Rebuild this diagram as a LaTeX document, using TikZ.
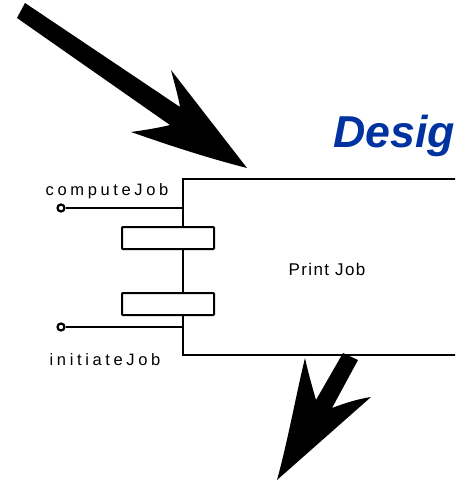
\documentclass[tikz,border=0pt]{standalone}
\usepackage{fontspec}
\setmainfont{Liberation Sans}
\newfontfamily\spacedfont[LetterSpace=22]{Liberation Sans}
\newfontfamily\jobfont[LetterSpace=8]{Liberation Sans}
\definecolor{titleblue}{RGB}{0,51,160}
\begin{document}
\begin{tikzpicture}[x=1pt,y=-1pt,
  thinline/.style={line width=2pt,line join=round},
  portbox/.style={draw,line width=2pt,rounded corners=0.8pt,minimum width=92pt,minimum height=22pt,inner sep=0pt},
  jobbox/.style={draw,line width=2pt,minimum width=286pt,minimum height=176pt,inner sep=0pt},
  plug/.style={circle,draw,line width=2.2pt,fill=white,minimum size=7pt,inner sep=0pt},
  portlabel/.style={font=\spacedfont\fontsize{16.5}{18}\selectfont,inner sep=0pt},
  bigarrow/.style={fill=black,draw=none}]
\useasboundingbox (0,0) rectangle (455,481);
\clip (0,0) rectangle (455,481);
\fill[white] (0,0) rectangle (455,481);

% title, running off the right edge
\node[anchor=base west,inner sep=0pt,text=titleblue,
      font=\fontsize{44.7}{46}\selectfont\bfseries\itshape] (title) at (333,147) {Desig};

% component box and its two interface ports
\node[jobbox] (job) at (326,267) {};
\node[font=\jobfont\fontsize{17}{18}\selectfont,inner sep=0pt] (jobname) at (327,269) {Print Job};
\node[portbox,fill=white] (p1) at (168,238) {};
\node[portbox,fill=white] (p2) at (168,304) {};

% provided operations
\node[plug] (c1) at (61,208) {};
\node[plug] (c2) at (61,327) {};
\draw[thinline] (c1) -- (c1 -| job.west);
\draw[thinline] (c2) -- (c2 -| job.west);
\node[portlabel] (l1) at (107,191) {computeJob};
\node[portlabel] (l2) at (105,360) {initiateJob};

% incoming arrow, top left
\fill[bigarrow] (25,3) -- (180,107)
  .. controls (178,95) and (174,82) .. (171,70)
  -- (247,168)
  .. controls (200,156) and (160,142) .. (131,132)
  .. controls (145,130) and (158,128) .. (170,125)
  -- (17,18) -- cycle;

% outgoing arrow, bottom
\fill[bigarrow] (343,353) -- (358,360) -- (332,408)
  .. controls (345,403) and (358,399) .. (371,397)
  -- (277,480)
  .. controls (288,440) and (296,395) .. (305,358)
  .. controls (308,372) and (312,386) .. (316,400)
  -- cycle;
\end{tikzpicture}
\end{document}
